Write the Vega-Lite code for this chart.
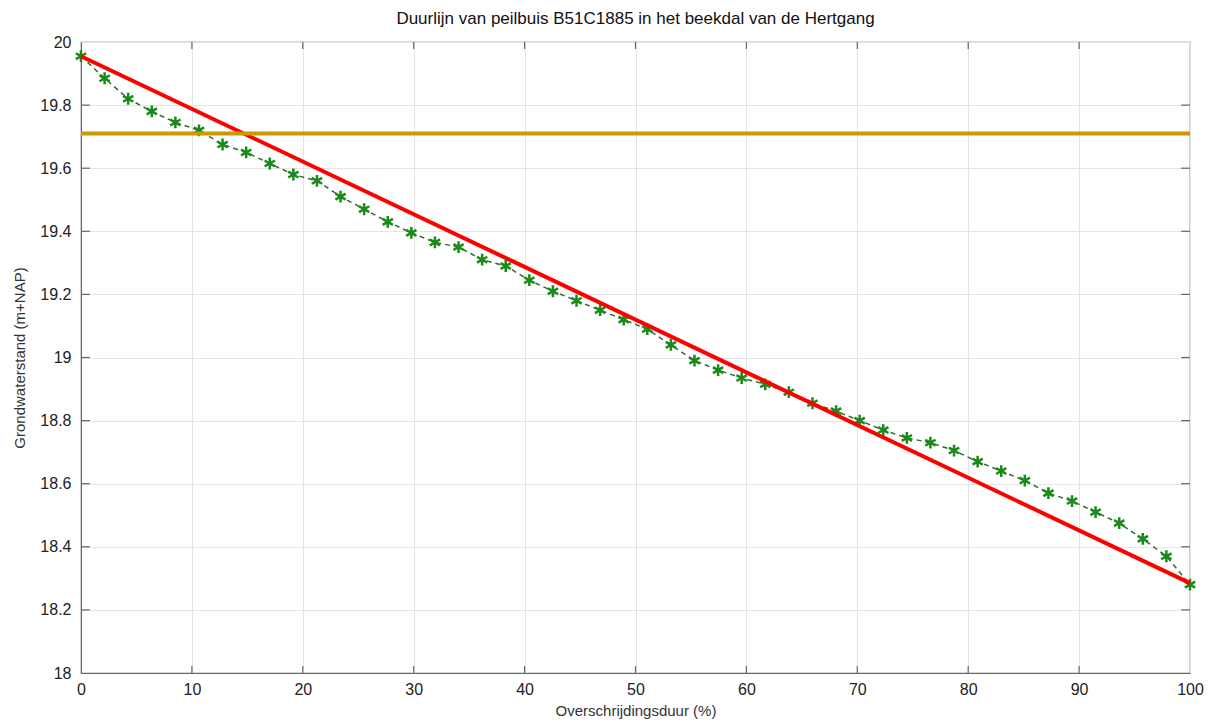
{
  "$schema": "https://vega.github.io/schema/vega-lite/v6.json",
  "width": 1109,
  "height": 631,
  "autosize": {"type": "none"},
  "padding": {"left": 81, "top": 42, "right": 24, "bottom": 54},
  "background": "white",
  "title": {"text": "Duurlijn van peilbuis B51C1885 in het beekdal van de Hertgang", "fontSize": 17, "fontWeight": "normal", "font": "Liberation Sans", "color": "#111", "offset": 6},
  "config": {
    "view": {"stroke": "#666", "strokeWidth": 1.2},
    "axis": {"labelFont": "Liberation Sans", "titleFont": "Liberation Sans", "labelFontSize": 16, "titleFontSize": 15, "titleFontWeight": "normal", "labelColor": "#222", "titleColor": "#333", "gridColor": "#e4e4e4", "domainColor": "#666", "ticks": false, "labelFlush": false, "labelOverlap": false}
  },
  "datasets": {
    "curve": [
      {"x": 0, "y": 19.955}, {"x": 2.128, "y": 19.885}, {"x": 4.255, "y": 19.82}, {"x": 6.383, "y": 19.78}, {"x": 8.511, "y": 19.745}, {"x": 10.638, "y": 19.72}, {"x": 12.766, "y": 19.675}, {"x": 14.894, "y": 19.65}, {"x": 17.021, "y": 19.615}, {"x": 19.149, "y": 19.58}, {"x": 21.277, "y": 19.56}, {"x": 23.404, "y": 19.51}, {"x": 25.532, "y": 19.47}, {"x": 27.66, "y": 19.43}, {"x": 29.787, "y": 19.395}, {"x": 31.915, "y": 19.365}, {"x": 34.043, "y": 19.35}, {"x": 36.17, "y": 19.31}, {"x": 38.298, "y": 19.29}, {"x": 40.426, "y": 19.245}, {"x": 42.553, "y": 19.21}, {"x": 44.681, "y": 19.18}, {"x": 46.809, "y": 19.15}, {"x": 48.936, "y": 19.12}, {"x": 51.064, "y": 19.09}, {"x": 53.191, "y": 19.04}, {"x": 55.319, "y": 18.99}, {"x": 57.447, "y": 18.96}, {"x": 59.574, "y": 18.935}, {"x": 61.702, "y": 18.915}, {"x": 63.83, "y": 18.89}, {"x": 65.957, "y": 18.855}, {"x": 68.085, "y": 18.83}, {"x": 70.213, "y": 18.8}, {"x": 72.34, "y": 18.77}, {"x": 74.468, "y": 18.745}, {"x": 76.596, "y": 18.73}, {"x": 78.723, "y": 18.705}, {"x": 80.851, "y": 18.67}, {"x": 82.979, "y": 18.64}, {"x": 85.106, "y": 18.61}, {"x": 87.234, "y": 18.57}, {"x": 89.362, "y": 18.545}, {"x": 91.489, "y": 18.51}, {"x": 93.617, "y": 18.475}, {"x": 95.745, "y": 18.425}, {"x": 97.872, "y": 18.37}, {"x": 100, "y": 18.28}
    ],
    "fit": [{"x": 0, "y": 19.955}, {"x": 100, "y": 18.285}],
    "xticks": [{"t": 10}, {"t": 20}, {"t": 30}, {"t": 40}, {"t": 50}, {"t": 60}, {"t": 70}, {"t": 80}, {"t": 90}],
    "yticks": [{"t": 18.2}, {"t": 18.4}, {"t": 18.6}, {"t": 18.8}, {"t": 19}, {"t": 19.2}, {"t": 19.4}, {"t": 19.6}, {"t": 19.8}]
  },
  "layer": [
    {
      "data": {"name": "curve"},
      "mark": {"type": "line", "color": "#2f6b2f", "strokeWidth": 1.5, "strokeDash": [5, 4]},
      "encoding": {
        "x": {"field": "x", "type": "quantitative", "scale": {"domain": [0, 100], "nice": false}, "axis": {"values": [0,10,20,30,40,50,60,70,80,90,100], "title": "Overschrijdingsduur (%)", "titlePadding": 6, "labelPadding": 8}},
        "y": {"field": "y", "type": "quantitative", "scale": {"domain": [18, 20], "nice": false, "zero": false}, "axis": {"values": [18,18.2,18.4,18.6,18.8,19,19.2,19.4,19.6,19.8,20], "format": "~g", "title": "Grondwaterstand (m+NAP)", "titlePadding": 12, "labelPadding": 10}}
      }
    },
    {
      "data": {"name": "xticks"},
      "mark": {"type": "rule", "color": "#666", "strokeWidth": 1.2},
      "encoding": {"x": {"field": "t", "type": "quantitative"}, "y": {"datum": 18}, "y2": {"datum": 18.022}}
    },
    {
      "data": {"name": "xticks"},
      "mark": {"type": "rule", "color": "#666", "strokeWidth": 1.2},
      "encoding": {"x": {"field": "t", "type": "quantitative"}, "y": {"datum": 20}, "y2": {"datum": 19.978}}
    },
    {
      "data": {"name": "yticks"},
      "mark": {"type": "rule", "color": "#666", "strokeWidth": 1.2},
      "encoding": {"y": {"field": "t", "type": "quantitative"}, "x": {"datum": 0}, "x2": {"datum": 0.8}}
    },
    {
      "data": {"name": "yticks"},
      "mark": {"type": "rule", "color": "#666", "strokeWidth": 1.2},
      "encoding": {"y": {"field": "t", "type": "quantitative"}, "x": {"datum": 100}, "x2": {"datum": 99.2}}
    },
    {
      "data": {"name": "curve"},
      "mark": {"type": "point", "shape": "M0,-1L0,1M-0.87,-0.5L0.87,0.5M-0.87,0.5L0.87,-0.5", "filled": false, "color": "#1a8a1a", "strokeWidth": 2.5, "size": 140, "opacity": 1},
      "encoding": {
        "x": {"field": "x", "type": "quantitative"},
        "y": {"field": "y", "type": "quantitative"}
      }
    },
    {
      "data": {"name": "fit"},
      "mark": {"type": "line", "color": "#ff0000", "strokeWidth": 4},
      "encoding": {
        "x": {"field": "x", "type": "quantitative"},
        "y": {"field": "y", "type": "quantitative"}
      }
    },
    {
      "data": {"values": [{"v": 19.71}]},
      "mark": {"type": "rule", "color": "#cc9900", "strokeWidth": 4},
      "encoding": {
        "y": {"field": "v", "type": "quantitative"}
      }
    }
  ]
}
